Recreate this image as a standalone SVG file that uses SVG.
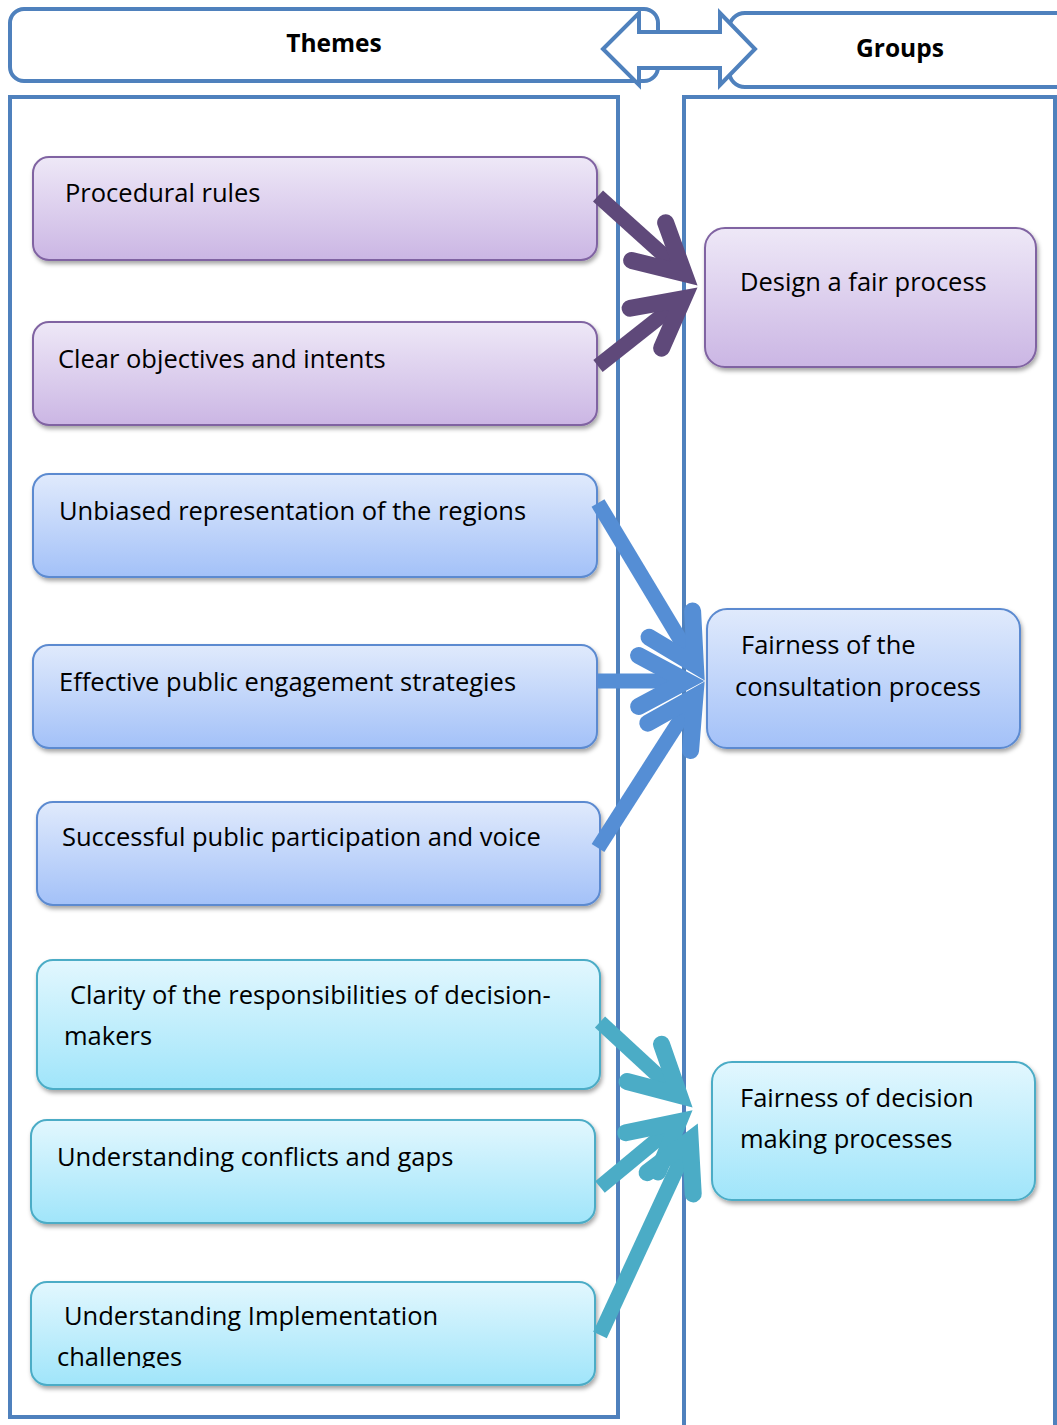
<svg xmlns="http://www.w3.org/2000/svg" width="1057" height="1425" viewBox="0 0 1057 1425">
<style>
.frame{fill:none;stroke:#4F81BD;stroke-width:4}
.hdr{fill:#fff;stroke:#4F81BD;stroke-width:4}
.htxt{font-family:"Open Sans","Noto Sans",sans-serif;font-weight:bold;font-size:24.5px;fill:#000;text-anchor:middle}
.txt{font-family:"Open Sans","Noto Sans",sans-serif;font-size:25.5px;fill:#000}
.np{fill:url(#gp);stroke:#8064A2;stroke-width:2;filter:url(#sh)}
.nb{fill:url(#gb);stroke:#5B8AD0;stroke-width:2;filter:url(#sh)}
.nc{fill:url(#gc);stroke:#4BACC6;stroke-width:2;filter:url(#sh)}
.shaft{fill:none;stroke-width:15;stroke-linecap:butt}
.ap{stroke:#5F497A;marker-end:url(#mp)}
.ab{stroke:#558ED5;marker-end:url(#mb)}
.ac{stroke:#4BACC6;marker-end:url(#mc)}
.head{fill:none;stroke-width:17;stroke-linecap:round;stroke-linejoin:miter}
</style>
<defs>
<linearGradient id="gp" x1="0" y1="0" x2="0" y2="1"><stop offset="0" stop-color="#EEE8F7"/><stop offset="1" stop-color="#CBB6E4"/></linearGradient>
<linearGradient id="gb" x1="0" y1="0" x2="0" y2="1"><stop offset="0" stop-color="#E0EAFC"/><stop offset="1" stop-color="#A3C1F8"/></linearGradient>
<linearGradient id="gc" x1="0" y1="0" x2="0" y2="1"><stop offset="0" stop-color="#E2F7FE"/><stop offset="1" stop-color="#A0E5FA"/></linearGradient>
<filter id="sh" x="-5%" y="-10%" width="110%" height="130%"><feDropShadow dx="1.5" dy="3" stdDeviation="2" flood-color="#000" flood-opacity="0.35"/></filter>
<marker id="mp" markerUnits="userSpaceOnUse" orient="auto" markerWidth="10" markerHeight="10" refX="0" refY="0" overflow="visible"><path class="head" stroke="#5F497A" d="M-47.7,-25.4 L0,0 L-47.7,25.4"/></marker>
<marker id="mb" markerUnits="userSpaceOnUse" orient="auto" markerWidth="10" markerHeight="10" refX="0" refY="0" overflow="visible"><path class="head" stroke="#558ED5" d="M-47.7,-25.4 L0,0 L-47.7,25.4"/></marker>
<marker id="mc" markerUnits="userSpaceOnUse" orient="auto" markerWidth="10" markerHeight="10" refX="0" refY="0" overflow="visible"><path class="head" stroke="#4BACC6" d="M-47.7,-25.4 L0,0 L-47.7,25.4"/></marker>
<clipPath id="clip8"><rect x="31" y="1282" width="564" height="86"/></clipPath>
</defs>
<rect width="1057" height="1425" fill="#fff"/>
<g id="themes-header"><rect class="hdr" x="10" y="9" width="648" height="72" rx="14"/><text class="htxt" x="334" y="52">Themes</text></g>
<g id="groups-header"><rect class="hdr" x="729" y="13" width="360" height="74" rx="16"/><text class="htxt" x="900" y="57">Groups</text></g>
<g id="double-arrow"><path class="hdr" d="M603,49 L639,13 L639,32 L720,32 L720,13 L755,49 L720,85 L720,68 L639,68 L639,85 Z"/></g>
<g id="themes-panel"><rect class="frame" x="10" y="97" width="608" height="1320"/></g>
<g id="groups-panel"><rect class="frame" x="684" y="97" width="371" height="1340"/></g>
<g id="t1"><rect class="np" x="33" y="157" width="564" height="103" rx="16"/><text class="txt" x="65" y="202">Procedural rules</text></g>
<g id="t2"><rect class="np" x="33" y="322" width="564" height="103" rx="16"/><text class="txt" x="58" y="368">Clear objectives and intents</text></g>
<g id="t3"><rect class="nb" x="33" y="474" width="564" height="103" rx="16"/><text class="txt" x="59" y="520">Unbiased representation of the regions</text></g>
<g id="t4"><rect class="nb" x="33" y="645" width="564" height="103" rx="16"/><text class="txt" x="59" y="691">Effective public engagement strategies</text></g>
<g id="t5"><rect class="nb" x="37" y="802" width="563" height="103" rx="16"/><text class="txt" x="62" y="846">Successful public participation and voice</text></g>
<g id="t6"><rect class="nc" x="37" y="960" width="563" height="129" rx="16"/><text class="txt" x="70" y="1004">Clarity of the responsibilities of decision-</text><text class="txt" x="64" y="1045">makers</text></g>
<g id="t7"><rect class="nc" x="31" y="1120" width="564" height="103" rx="16"/><text class="txt" x="57" y="1166">Understanding conflicts and gaps</text></g>
<g id="t8"><rect class="nc" x="31" y="1282" width="564" height="103" rx="16"/><g clip-path="url(#clip8)"><text class="txt" x="64" y="1325">Understanding Implementation</text><text class="txt" x="57" y="1366">challenges</text></g></g>
<g id="g1"><rect class="np" x="705" y="228" width="331" height="139" rx="20"/><text class="txt" x="740" y="291">Design a fair process</text></g>
<g id="g2"><rect class="nb" x="707" y="609" width="313" height="139" rx="20"/><text class="txt" x="741" y="654">Fairness of the</text><text class="txt" x="735" y="696">consultation process</text></g>
<g id="g3"><rect class="nc" x="712" y="1062" width="323" height="138" rx="20"/><text class="txt" x="740" y="1107">Fairness of decision</text><text class="txt" x="740" y="1148">making processes</text></g>
<g id="connectors">
<line class="shaft ap" x1="598" y1="196" x2="684.1" y2="273.5"/>
<line class="shaft ap" x1="598" y1="366" x2="683.3" y2="298.6"/>
<line class="shaft ab" x1="598" y1="503" x2="695.4" y2="665"/>
<line class="shaft ab" x1="598" y1="681" x2="686.3" y2="681"/>
<line class="shaft ab" x1="598" y1="848" x2="694.9" y2="696.7"/>
<line class="shaft ac" x1="600" y1="1022" x2="679.3" y2="1095.3"/>
<line class="shaft ac" x1="600" y1="1187" x2="678.6" y2="1121.9"/>
<line class="shaft ac" x1="600" y1="1335" x2="690.2" y2="1140"/>
</g>
</svg>
